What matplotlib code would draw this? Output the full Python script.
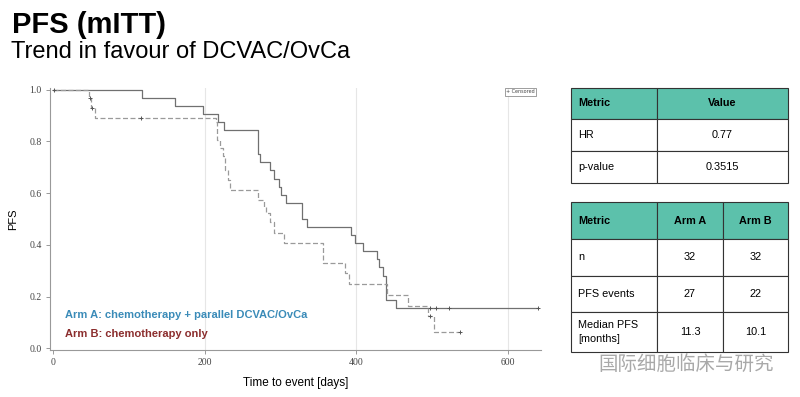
import matplotlib
matplotlib.use("Agg")
import matplotlib.pyplot as plt

# Arm A (solid): step times in days and survival after each step
arm_a_t = [0, 117, 161, 198, 218, 225, 271, 273, 287, 292, 298, 301, 308, 328, 335,
           393, 398, 409, 427, 430, 436, 440, 452, 640]
arm_a_s = [1.0, 0.969, 0.938, 0.906, 0.875, 0.844, 0.75, 0.719, 0.688, 0.656, 0.625,
           0.594, 0.563, 0.5, 0.469, 0.438, 0.406, 0.375, 0.344, 0.313, 0.281, 0.188,
           0.156, 0.156]
arm_a_cens_t = [498, 506, 523, 640]
arm_a_cens_s = [0.156, 0.156, 0.156, 0.156]

# Arm B (dashed)
arm_b_t = [0, 48, 50, 55, 215, 217, 221, 224, 227, 231, 234, 271, 278, 281, 287, 292,
           305, 356, 385, 391, 441, 468, 495, 503, 537]
arm_b_s = [1.0, 0.967, 0.928, 0.89, 0.877, 0.806, 0.774, 0.745, 0.69, 0.651, 0.612,
           0.574, 0.548, 0.522, 0.49, 0.447, 0.406, 0.329, 0.29, 0.249, 0.204, 0.164,
           0.125, 0.064, 0.064]
arm_b_cens_t = [1, 49, 51, 116, 497, 537]
arm_b_cens_s = [1.0, 0.967, 0.928, 0.89, 0.125, 0.064]

x_ticks = [0, 200, 400, 600]
y_ticks = [0.0, 0.2, 0.4, 0.6, 0.8, 1.0]

table1_rows = [["Metric", "Value"], ["HR", "0.77"], ["p-value", "0.3515"]]
table2_rows = [["Metric", "Arm A", "Arm B"], ["n", "32", "32"],
               ["PFS events", "27", "22"], ["Median PFS\n[months]", "11.3", "10.1"]]

W, H = 800, 397
fig = plt.figure(figsize=(8, 3.97), dpi=100)

def fx(px):
    return px / W

def fy(py):
    return 1 - py / H

# titles
fig.text(fx(12), fy(33), "PFS (mITT)", fontsize=21, fontweight="bold",
         family="Liberation Sans", va="baseline")
fig.text(fx(11), fy(58), "Trend in favour of DCVAC/OvCa", fontsize=17,
         family="Liberation Sans", va="baseline")

# KM plot
ax = fig.add_axes([fx(50), fy(350), fx(541) - fx(50), fy(88) - fy(350)])
ax.set_xlim(-4, 644)
ax.set_ylim(-0.007, 1.007)
for x in [200, 400, 600]:
    ax.axvline(x, color="#e6e6e6", lw=0.8, zorder=0)
ax.step(arm_a_t, arm_a_s, where="post", color="#707070", lw=0.9)
ax.step(arm_b_t, arm_b_s, where="post", color="#9a9a9a", lw=0.9, ls=(0, (4, 2)))
ax.plot(arm_a_cens_t, arm_a_cens_s, "+", color="#555555", ms=3, mew=0.7)
ax.plot(arm_b_cens_t, arm_b_cens_s, "+", color="#555555", ms=3, mew=0.7)

for s in ["top", "right"]:
    ax.spines[s].set_visible(False)
for s in ["left", "bottom"]:
    ax.spines[s].set_color("#999999")
    ax.spines[s].set_linewidth(0.8)
ax.set_xticks(x_ticks)
ax.set_yticks(y_ticks)
ax.set_xticklabels([str(v) for v in x_ticks], family="Liberation Serif", fontsize=7, color="#444444")
ax.set_yticklabels(["%.1f" % v for v in y_ticks], family="Liberation Serif", fontsize=7, color="#444444")
ax.tick_params(length=3, width=0.7, color="#999999", pad=3)
ax.set_xlabel("Time to event [days]", fontsize=8.5, family="Liberation Sans", labelpad=7)
ax.set_ylabel("PFS", fontsize=8, family="Liberation Sans", labelpad=8)

ax.text(598, 0.993, "+ Censored", fontsize=3.5, family="DejaVu Sans", color="#444444",
        va="center", ha="left",
        bbox=dict(boxstyle="square,pad=0.3", fc="white", ec="#777777", lw=0.5))

ax.text(16, 0.127, "Arm A: chemotherapy + parallel DCVAC/OvCa", fontsize=8,
        fontweight="bold", color="#3a8bb8", family="Liberation Sans", va="center")
ax.text(16, 0.054, "Arm B: chemotherapy only", fontsize=8,
        fontweight="bold", color="#8b2d2d", family="Liberation Sans", va="center")

# tables
teal = "#5cc1ab"

def draw_table(rows, x_edges, y_edges):
    tax = fig.add_axes([0, 0, 1, 1])
    tax.set_xlim(0, W)
    tax.set_ylim(H, 0)
    tax.axis("off")
    for r, row in enumerate(rows):
        y0, y1 = y_edges[r], y_edges[r + 1]
        for c, txt in enumerate(row):
            x0, x1 = x_edges[c], x_edges[c + 1]
            fc = teal if r == 0 else "white"
            tax.add_patch(plt.Rectangle((x0, y0), x1 - x0, y1 - y0, fc=fc,
                                        ec="#333333", lw=0.8))
            if c == 0:
                tax.text(x0 + 7, (y0 + y1) / 2, txt, ha="left", va="center",
                         fontsize=7.8, family="Liberation Sans",
                         fontweight="bold" if r == 0 else "normal", linespacing=1.6)
            else:
                tax.text((x0 + x1) / 2, (y0 + y1) / 2, txt, ha="center", va="center",
                         fontsize=7.8, family="Liberation Sans",
                         fontweight="bold" if r == 0 else "normal")

draw_table(table1_rows, [571, 657, 788], [88, 119, 151, 183])
draw_table(table2_rows, [571, 657, 723, 788], [202, 239, 276, 312, 352])

# watermark
fig.text(fx(598), fy(364), "国际细胞临床与研究", fontsize=14,
         family=["Noto Sans CJK SC", "DejaVu Sans"], color="#a0a0a0", va="center", alpha=0.9)

fig.savefig("out.png", dpi=100)
